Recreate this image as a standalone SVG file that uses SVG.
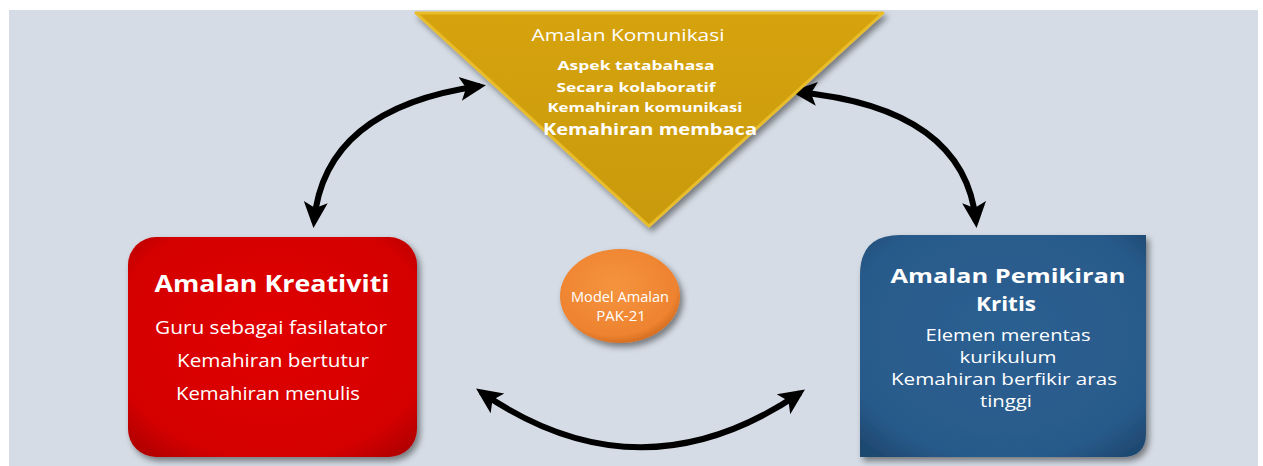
<svg xmlns="http://www.w3.org/2000/svg" width="1263" height="466" viewBox="0 0 1263 466">
<style>
.t{font-family:"Open Sans","Liberation Sans",sans-serif;text-anchor:middle;fill:#ffffff}
.tb{font-weight:bold}
.conn{fill:none;stroke:#000;stroke-width:6;marker-start:url(#ah);marker-end:url(#ah)}
</style>
<defs>
<marker id="ah" markerUnits="userSpaceOnUse" markerWidth="26" markerHeight="26" viewBox="0 0 26 26" refX="20" refY="13" orient="auto-start-reverse">
<path d="M0,1 L26,13 L0,25 L6,13 Z" fill="#000"/>
</marker>
<filter id="sh" x="-10%" y="-10%" width="125%" height="125%">
<feDropShadow dx="3" dy="4" stdDeviation="3" flood-color="#000" flood-opacity="0.45"/>
</filter>
<linearGradient id="gold" x1="0" y1="0" x2="0" y2="1">
<stop offset="0" stop-color="#D6A30C"/>
<stop offset="1" stop-color="#C99A08"/>
</linearGradient>
<radialGradient id="red" cx="0.5" cy="0.45" r="0.7">
<stop offset="0" stop-color="#E00000"/>
<stop offset="0.8" stop-color="#D40000"/>
<stop offset="1" stop-color="#B00000"/>
</radialGradient>
<radialGradient id="blue" cx="0.5" cy="0.45" r="0.7">
<stop offset="0" stop-color="#2C5F92"/>
<stop offset="0.8" stop-color="#285A8A"/>
<stop offset="1" stop-color="#1E4870"/>
</radialGradient>
<radialGradient id="orange" cx="0.45" cy="0.4" r="0.65">
<stop offset="0" stop-color="#F5943F"/>
<stop offset="0.8" stop-color="#EE8330"/>
<stop offset="1" stop-color="#C8641C"/>
</radialGradient>
</defs>
<rect x="9" y="10" width="1249" height="456" fill="#D5DCE5"/>
<g id="connectors">
<path class="conn" d="M314,222 Q324,108 480,86"/>
<path class="conn" d="M797,92 Q965,108 976,222"/>
<path class="conn" d="M481,392 Q640,502 800,393"/>
</g>
<g id="komunikasi">
<path d="M416,13 L883,13 L649,226 Z" fill="url(#gold)" stroke="#E9BC2A" stroke-width="3" stroke-linejoin="round" filter="url(#sh)"/>
<text class="t" x="628" y="41" font-size="16" textLength="193" lengthAdjust="spacingAndGlyphs" fill="#FFF6E0">Amalan Komunikasi</text>
<text class="t tb" x="636" y="70" font-size="13" textLength="157" lengthAdjust="spacingAndGlyphs">Aspek tatabahasa</text>
<text class="t tb" x="636" y="92" font-size="13" textLength="159" lengthAdjust="spacingAndGlyphs">Secara kolaboratif</text>
<text class="t tb" x="645" y="112" font-size="13" textLength="195" lengthAdjust="spacingAndGlyphs">Kemahiran komunikasi</text>
<text class="t tb" x="650" y="135" font-size="16" textLength="214" lengthAdjust="spacingAndGlyphs">Kemahiran membaca</text>
</g>
<g id="kreativiti">
<rect x="128" y="237" width="289" height="220" rx="28" fill="url(#red)" filter="url(#sh)"/>
<text class="t tb" x="272" y="292" font-size="23" textLength="235" lengthAdjust="spacingAndGlyphs">Amalan Kreativiti</text>
<text class="t" x="271" y="334" font-size="18" textLength="232" lengthAdjust="spacingAndGlyphs" fill="#FCE8E8">Guru sebagai fasilatator</text>
<text class="t" x="273" y="367" font-size="18" textLength="192" lengthAdjust="spacingAndGlyphs" fill="#FCE8E8">Kemahiran bertutur</text>
<text class="t" x="268" y="400" font-size="18" textLength="184" lengthAdjust="spacingAndGlyphs" fill="#FCE8E8">Kemahiran menulis</text>
</g>
<g id="model">
<ellipse cx="620" cy="296" rx="60" ry="47" fill="url(#orange)" filter="url(#sh)"/>
<text class="t" x="620" y="302" font-size="15" textLength="98" lengthAdjust="spacingAndGlyphs" fill="#FBE3CC">Model Amalan</text>
<text class="t" x="621" y="321" font-size="15" fill="#FBE3CC">PAK-21</text>
</g>
<g id="pemikiran">
<path d="M900,235 L1146,235 L1146,433 Q1146,457 1122,457 L860,457 L860,275 Q860,235 900,235 Z" fill="url(#blue)" filter="url(#sh)"/>
<text class="t tb" x="1008" y="283" font-size="20" textLength="235" lengthAdjust="spacingAndGlyphs">Amalan Pemikiran</text>
<text class="t tb" x="1006" y="311" font-size="20" textLength="60" lengthAdjust="spacingAndGlyphs">Kritis</text>
<text class="t" x="1008" y="341" font-size="16" textLength="165" lengthAdjust="spacingAndGlyphs" fill="#E4ECF5">Elemen merentas</text>
<text class="t" x="1008" y="363" font-size="16" textLength="97" lengthAdjust="spacingAndGlyphs" fill="#E4ECF5">kurikulum</text>
<text class="t" x="1004" y="385" font-size="16" textLength="226" lengthAdjust="spacingAndGlyphs" fill="#E4ECF5">Kemahiran berfikir aras</text>
<text class="t" x="1006" y="407" font-size="16" textLength="52" lengthAdjust="spacingAndGlyphs" fill="#E4ECF5">tinggi</text>
</g>
</svg>
